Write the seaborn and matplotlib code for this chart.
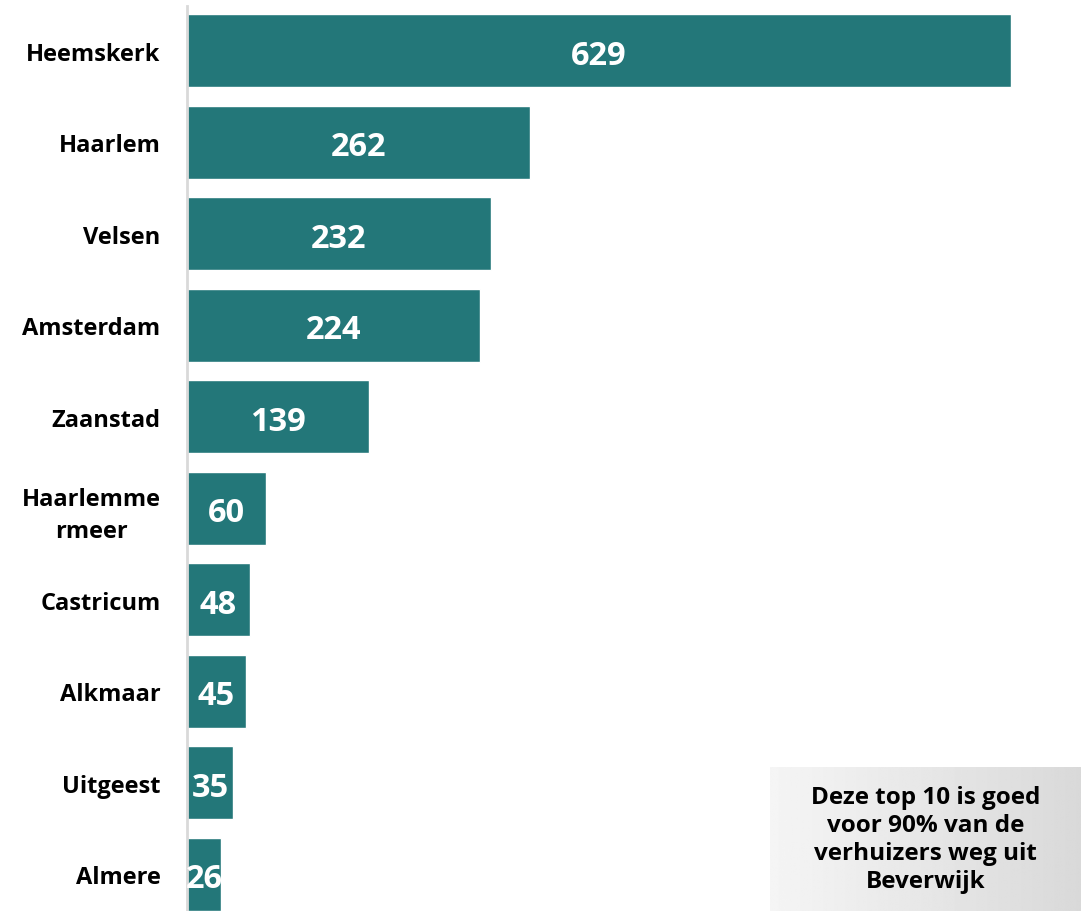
import seaborn as sns
import pandas as pd
import numpy as np
import matplotlib.pyplot as plt

# top 10 destinations of people moving out of Beverwijk
gemeenten = ['Heemskerk', 'Haarlem', 'Velsen', 'Amsterdam', 'Zaanstad',
             'Haarlemme\nrmeer', 'Castricum', 'Alkmaar', 'Uitgeest', 'Almere']
verhuizers = [629, 262, 232, 224, 139, 60, 48, 45, 35, 26]

NOTE = 'Deze top 10 is goed\nvoor 90% van de\nverhuizers weg uit\nBeverwijk'
BAR_COLOR = '#237779'

sns.set_style('white')
plt.rcParams['font.family'] = ['Open Sans', 'DejaVu Sans']

df = pd.DataFrame({'gemeente': gemeenten, 'aantal': verhuizers})

W, H = 1081, 912
fig = plt.figure(figsize=(W / 100, H / 100), dpi=100)
ax = fig.add_axes([187 / W, 0, (W - 187) / W, (H - 7) / H])

sns.barplot(data=df, x='aantal', y='gemeente', orient='h', color=BAR_COLOR,
            width=0.8, saturation=1, ax=ax)

ax.set_xlim(0, (W - 187) / 1.31)
ax.set_ylim(9.4, -0.49)

for i, v in enumerate(verhuizers):
    ax.text(v / 2, i + 0.05, str(v), ha='center', va='center', color='white',
            fontsize=23.5, fontweight='bold')

ax.set_xlabel('')
ax.set_ylabel('')
ax.set_xticks([])
ax.tick_params(axis='y', length=0, pad=19)
for lbl in ax.get_yticklabels():
    lbl.set_fontsize(17)
    lbl.set_fontweight('bold')
    lbl.set_color('black')
    lbl.set_multialignment('center')
    lbl.set_linespacing(1.45)

sns.despine(ax=ax, top=True, right=True, bottom=True, left=False)
ax.spines['left'].set_color('#d9d9d9')
ax.spines['left'].set_linewidth(2)

# grey gradient note box
nax = fig.add_axes([770 / W, 0, (W - 770) / W, 144 / H])
grad = np.linspace(0.96, 0.85, 256).reshape(1, -1)
nax.imshow(grad, cmap='gray', vmin=0, vmax=1, aspect='auto', extent=(0, 1, 0, 1))
nax.set_xlim(0, 1)
nax.set_ylim(0, 1)
nax.axis('off')
nax.text(0.5, 0.5, NOTE, ha='center', va='center', fontsize=17.5,
         fontweight='bold', color='black', linespacing=1.22)

plt.savefig('out.png', dpi=100)
plt.close()
